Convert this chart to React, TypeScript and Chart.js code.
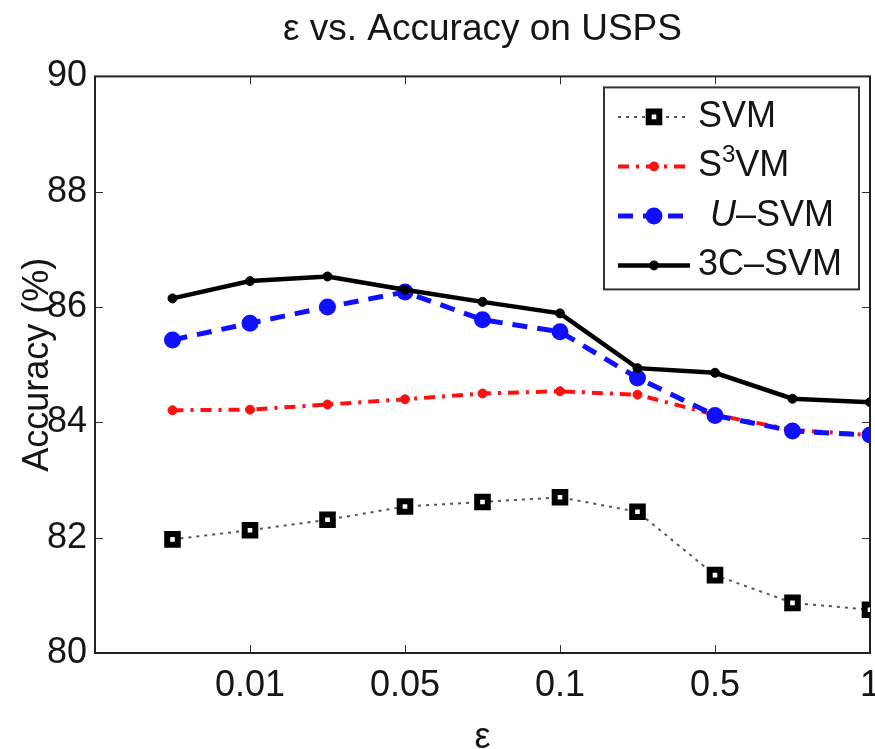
import React, { useEffect, useRef } from 'react';
import { Chart, registerables } from 'chart.js';

Chart.register(...registerables);

// ---- data ----
const xPositions = [1, 2, 3, 4, 5, 6, 7, 8, 9, 10];
const xTickValues = [2, 4, 6, 8, 10];
const xTickLabels = ['0.01', '0.05', '0.1', '0.5', '1'];
const yTickValues = [80, 82, 84, 86, 88, 90];

const svm = [81.97, 82.13, 82.31, 82.54, 82.62, 82.7, 82.45, 81.35, 80.87, 80.75];
const s3vm = [84.21, 84.22, 84.31, 84.4, 84.5, 84.54, 84.48, 84.13, 83.87, 83.78];
const usvm = [85.43, 85.72, 86.0, 86.26, 85.78, 85.57, 84.77, 84.12, 83.85, 83.78];
const c3svm = [86.15, 86.45, 86.53, 86.3, 86.09, 85.89, 84.94, 84.86, 84.41, 84.35];

const seriesNames = ['SVM', 'S3VM', 'U-SVM', '3C-SVM'];

const FONT = '"Liberation Sans", Arial, Helvetica, sans-serif';
const FS = 36;
const TEXT = '#151515';

const toXY = (vals: number[]) => vals.map((v, i) => ({ x: xPositions[i], y: v }));

const framePlugin = {
  id: 'matlabFrame',
  beforeDatasetsDraw(chart: any) {
    const { ctx, chartArea } = chart;
    const { left, right, top, bottom } = chartArea;
    const xs = chart.scales.x;
    const ys = chart.scales.y;
    ctx.save();
    ctx.strokeStyle = '#333';
    ctx.lineWidth = 1;
    const tl = 8;
    ctx.beginPath();
    xTickValues.forEach((v) => {
      const px = Math.round(xs.getPixelForValue(v)) + 0.5;
      ctx.moveTo(px, bottom);
      ctx.lineTo(px, bottom - tl);
      ctx.moveTo(px, top);
      ctx.lineTo(px, top + tl);
    });
    yTickValues.forEach((v) => {
      const py = Math.round(ys.getPixelForValue(v)) + 0.5;
      ctx.moveTo(left, py);
      ctx.lineTo(left + tl, py);
      ctx.moveTo(right, py);
      ctx.lineTo(right - tl, py);
    });
    ctx.stroke();
    ctx.lineWidth = 2;
    ctx.strokeStyle = '#222';
    ctx.strokeRect(left, top, right - left, bottom - top);
    ctx.restore();
  },
};

function drawMarker(ctx: CanvasRenderingContext2D, ds: any, x: number, y: number) {
  const r = ds.pointRadius;
  ctx.save();
  ctx.setLineDash([]);
  ctx.lineWidth = ds.pointBorderWidth;
  ctx.strokeStyle = ds.pointBorderColor;
  ctx.fillStyle = ds.pointBackgroundColor;
  ctx.beginPath();
  if (ds.pointStyle === 'rect') {
    const s = r * Math.SQRT1_2;
    ctx.rect(x - s, y - s, 2 * s, 2 * s);
  } else {
    ctx.arc(x, y, r, 0, Math.PI * 2);
  }
  ctx.fill();
  ctx.stroke();
  ctx.restore();
}

const legendPlugin = {
  id: 'matlabLegend',
  afterDraw(chart: any) {
    const { ctx, chartArea } = chart;
    const w = 255;
    const h = 202;
    const boxLeft = chartArea.right - 11 - w;
    const boxTop = chartArea.top + 11;
    ctx.save();
    ctx.fillStyle = '#fff';
    ctx.fillRect(boxLeft, boxTop, w, h);
    ctx.lineWidth = 2;
    ctx.strokeStyle = '#333';
    ctx.strokeRect(boxLeft, boxTop, w, h);

    const datasets = chart.data.datasets;
    datasets.forEach((ds: any, i: number) => {
      const cy = boxTop + 29.5 + i * 49.5;
      const x0 = boxLeft + 14;
      const x1 = boxLeft + 86;
      const xm = boxLeft + 50;
      ctx.save();
      ctx.strokeStyle = ds.borderColor;
      ctx.lineWidth = ds.borderWidth;
      ctx.setLineDash(ds.borderDash || []);
      ctx.beginPath();
      ctx.moveTo(x0, cy);
      ctx.lineTo(x1, cy);
      ctx.stroke();
      ctx.restore();
      drawMarker(ctx, ds, xm, cy);

      const tx = boxLeft + 94;
      ctx.fillStyle = TEXT;
      ctx.textBaseline = 'middle';
      ctx.textAlign = 'left';
      const name = seriesNames[i];
      if (name === 'S3VM') {
        ctx.font = `${FS}px ${FONT}`;
        ctx.fillText('S', tx, cy);
        const sw = ctx.measureText('S').width;
        ctx.font = `${Math.round(FS * 0.66)}px ${FONT}`;
        ctx.fillText('3', tx + sw, cy - 11);
        const tw = ctx.measureText('3').width;
        ctx.font = `${FS}px ${FONT}`;
        ctx.fillText('VM', tx + sw + tw, cy);
      } else if (name === 'U-SVM') {
        ctx.font = `italic ${FS}px ${FONT}`;
        const ux = tx + 12;
        ctx.fillText('U', ux, cy);
        const uw = ctx.measureText('U').width;
        ctx.font = `${FS}px ${FONT}`;
        ctx.fillText('\u2013SVM', ux + uw, cy);
      } else if (name === '3C-SVM') {
        ctx.font = `${FS}px ${FONT}`;
        ctx.fillText('3C\u2013SVM', tx, cy);
      } else {
        ctx.font = `${FS}px ${FONT}`;
        ctx.fillText(name, tx, cy);
      }
    });
    ctx.restore();
  },
};

export default function App() {
  const canvasRef = useRef<HTMLCanvasElement | null>(null);

  useEffect(() => {
    if (!canvasRef.current) return;
    const chart = new Chart(canvasRef.current, {
      type: 'line',
      data: {
        datasets: [
          {
            label: seriesNames[0],
            data: toXY(svm),
            borderColor: '#555',
            borderWidth: 2,
            borderDash: [3, 5],
            pointStyle: 'rect',
            pointRadius: 7.5,
            pointBorderWidth: 6,
            pointBorderColor: '#000',
            pointBackgroundColor: '#fff',
            order: 4,
            clip: 0,
          } as any,
          {
            label: seriesNames[1],
            data: toXY(s3vm),
            borderColor: '#ff1010',
            borderWidth: 4,
            borderDash: [11, 7, 3, 7],
            pointStyle: 'circle',
            pointRadius: 4.5,
            pointBorderWidth: 1,
            pointBorderColor: '#ff1010',
            pointBackgroundColor: '#ff1010',
            order: 3,
            clip: 0,
          },
          {
            label: seriesNames[2],
            data: toXY(usvm),
            borderColor: '#1010ff',
            borderWidth: 5,
            borderDash: [15, 10],
            pointStyle: 'circle',
            pointRadius: 7,
            pointBorderWidth: 3,
            pointBorderColor: '#1010ff',
            pointBackgroundColor: '#1010ff',
            order: 2,
            clip: 0,
          },
          {
            label: seriesNames[3],
            data: toXY(c3svm),
            borderColor: '#000',
            borderWidth: 4.5,
            pointStyle: 'circle',
            pointRadius: 4.5,
            pointBorderWidth: 1,
            pointBorderColor: '#000',
            pointBackgroundColor: '#000',
            order: 1,
            clip: 0,
          },
        ],
      },
      options: {
        animation: false,
        responsive: false,
        maintainAspectRatio: false,
        layout: { padding: 0, autoPadding: false },
        plugins: {
          legend: { display: false },
          tooltip: { enabled: false },
          title: {
            display: true,
            fullSize: false,
            text: '\u03b5 vs. Accuracy on USPS',
            color: TEXT,
            font: { family: FONT, size: 37, weight: 'normal' },
            padding: { top: 8, bottom: 24 },
          },
        },
        scales: {
          x: {
            type: 'linear',
            min: 0,
            max: 10,
            grid: { display: false, drawTicks: true, tickLength: 8 },
            border: { display: false },
            ticks: {
              stepSize: 2,
              padding: 3,
              color: TEXT,
              font: { family: FONT, size: FS },
              maxRotation: 0,
              autoSkip: false,
              callback: (v: any) => {
                const idx = xTickValues.indexOf(Number(v));
                return idx >= 0 ? xTickLabels[idx] : '';
              },
            },
            title: {
              display: true,
              text: '\u03b5',
              color: TEXT,
              font: { family: FONT, size: FS },
              padding: { top: 0, bottom: -11 },
            },
            afterFit: (s: any) => {
              s.height = 96;
              s.paddingRight = 5;
            },
          },
          y: {
            type: 'linear',
            min: 80,
            max: 90,
            grid: { display: false, drawTicks: false },
            border: { display: false },
            ticks: {
              stepSize: 2,
              padding: 8,
              color: TEXT,
              font: { family: FONT, size: FS },
            },
            title: {
              display: true,
              text: 'Accuracy (%)',
              color: TEXT,
              font: { family: FONT, size: FS },
              padding: { top: 16, bottom: 0 },
            },
            afterFit: (s: any) => {
              s.width = 95;
            },
          },
        },
      } as any,
      plugins: [framePlugin, legendPlugin],
    });
    return () => chart.destroy();
  }, []);

  return (
    <div style={{ position: 'absolute', left: 0, top: 0, width: 875, height: 749, overflow: 'hidden', background: '#fff' }}>
      <canvas ref={canvasRef} width={875} height={749} style={{ display: 'block' }} />
    </div>
  );
}
